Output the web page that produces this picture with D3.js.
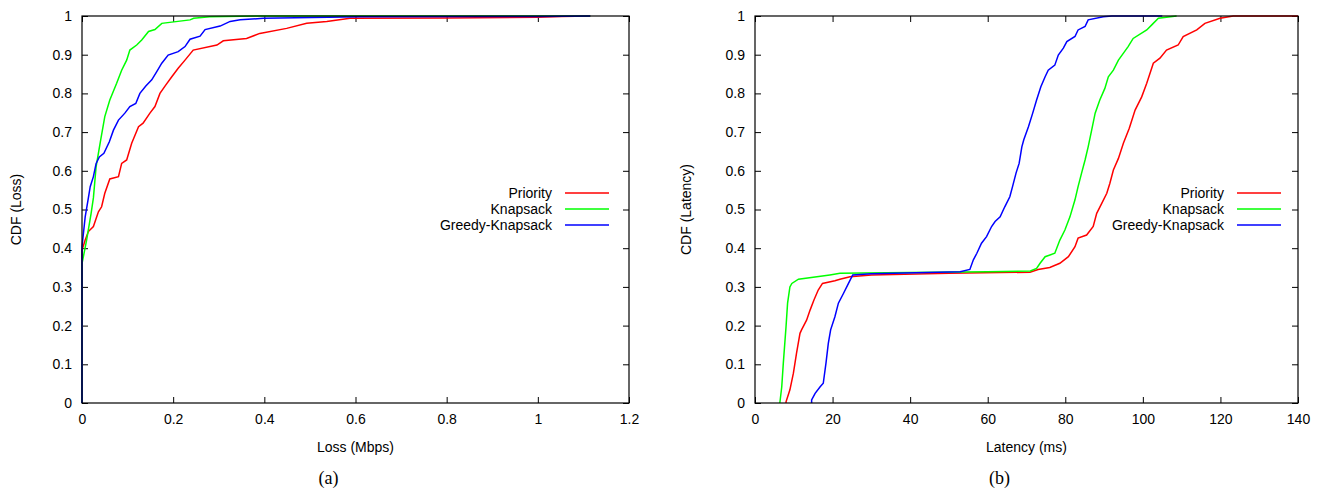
<!DOCTYPE html>
<html>
<head>
<meta charset="utf-8">
<script src="https://cdn.jsdelivr.net/npm/d3@7"></script>
<style>
  html, body { margin: 0; padding: 0; background: #fff; }
  svg { display: block; }
  text { font-family: "Liberation Sans", Arial, sans-serif; fill: #000; }
</style>
</head>
<body>
<svg id="chart" width="1330" height="491"></svg>
<script>
// ---------------- data ----------------
const seriesNames = ["Priority", "Knapsack", "Greedy-Knapsack"];
const seriesColors = ["#ff0000", "#00ff00", "#0000ff"];

const yTicks = [0, 0.1, 0.2, 0.3, 0.4, 0.5, 0.6, 0.7, 0.8, 0.9, 1];
const lossTicks = [0, 0.2, 0.4, 0.6, 0.8, 1, 1.2];
const latencyTicks = [0, 20, 40, 60, 80, 100, 120, 140];

// Panel (a): CDF of loss (Mbps)
const lossPriority = [[0,0],[0,0.395],[0.007,0.421],[0.014,0.443],[0.025,0.456],[0.036,0.494],[0.043,0.507],[0.05,0.542],[0.061,0.579],[0.08,0.585],[0.087,0.619],[0.098,0.628],[0.109,0.671],[0.124,0.714],[0.134,0.723],[0.149,0.749],[0.16,0.766],[0.171,0.8],[0.184,0.822],[0.197,0.843],[0.211,0.865],[0.226,0.886],[0.244,0.912],[0.296,0.925],[0.31,0.936],[0.361,0.942],[0.39,0.955],[0.449,0.968],[0.493,0.981],[0.537,0.986],[0.588,0.994],[0.8,0.995],[1.0,0.997],[1.05,0.999],[1.115,1.0]];
const lossKnapsack = [[0,0],[0,0.36],[0.01,0.42],[0.02,0.49],[0.025,0.53],[0.031,0.611],[0.041,0.68],[0.05,0.74],[0.061,0.783],[0.076,0.826],[0.087,0.86],[0.098,0.886],[0.105,0.912],[0.12,0.925],[0.131,0.938],[0.146,0.96],[0.16,0.965],[0.175,0.981],[0.237,0.99],[0.245,0.994],[0.28,0.998],[0.39,1.0],[1.115,1.0]];
const lossGreedy = [[0,0],[0,0.404],[0.007,0.481],[0.014,0.53],[0.018,0.559],[0.025,0.585],[0.031,0.619],[0.038,0.636],[0.048,0.645],[0.06,0.675],[0.069,0.705],[0.08,0.731],[0.094,0.749],[0.105,0.766],[0.118,0.774],[0.127,0.8],[0.14,0.819],[0.153,0.835],[0.164,0.856],[0.175,0.878],[0.189,0.899],[0.211,0.908],[0.226,0.921],[0.237,0.94],[0.259,0.948],[0.27,0.965],[0.303,0.974],[0.325,0.986],[0.347,0.99],[0.398,0.994],[0.61,0.998],[1.0,0.999],[1.115,1.0]];

// Panel (b): CDF of latency (ms)
const latPriority = [[8.0,0],[8.0,0.003],[9.0,0.034],[9.9,0.077],[10.7,0.128],[11.6,0.18],[12.0,0.189],[13.3,0.214],[14.2,0.24],[15.2,0.266],[16.3,0.292],[17.4,0.309],[20.6,0.316],[21.9,0.32],[24.5,0.326],[30,0.331],[50,0.335],[70.9,0.338],[73,0.345],[76,0.35],[78.6,0.361],[80.8,0.378],[82.5,0.404],[83.3,0.426],[85.5,0.434],[87.2,0.456],[88.1,0.49],[89.4,0.516],[90.7,0.542],[91.5,0.568],[92.4,0.602],[93.7,0.632],[95,0.672],[96.5,0.71],[98,0.757],[99.7,0.791],[101,0.826],[102.7,0.878],[104.4,0.891],[106.1,0.912],[109.1,0.925],[110.4,0.947],[113.9,0.964],[116,0.981],[119.9,0.994],[123.3,1.0],[140,1.0]];
const latKnapsack = [[6.4,0],[6.9,0.042],[7.3,0.103],[8.0,0.197],[8.4,0.258],[9.0,0.3],[9.5,0.309],[11.2,0.32],[19.3,0.331],[21.9,0.335],[40,0.337],[60,0.339],[71,0.341],[72.6,0.348],[73.5,0.361],[74.8,0.378],[77.3,0.387],[78.6,0.421],[79.9,0.447],[81.2,0.481],[82.5,0.525],[83.3,0.559],[84.2,0.594],[85.1,0.628],[85.9,0.662],[86.8,0.705],[87.7,0.749],[88.9,0.783],[90.2,0.813],[91.1,0.843],[92.4,0.86],[93.7,0.886],[95,0.904],[96.2,0.921],[97.5,0.942],[101,0.964],[102.3,0.977],[104,0.994],[108.7,1.0]];
const latGreedy = [[14.6,0],[14.6,0.008],[15.5,0.025],[16.8,0.042],[17.6,0.051],[18.3,0.103],[18.9,0.154],[19.5,0.189],[20.6,0.223],[21.5,0.258],[22.8,0.283],[24.1,0.309],[25.2,0.331],[30,0.334],[52.9,0.339],[55.4,0.345],[56.3,0.37],[57.2,0.387],[58.4,0.413],[59.7,0.43],[61,0.456],[61.9,0.469],[63.2,0.481],[64.4,0.507],[65.7,0.533],[66.4,0.559],[67.3,0.594],[68.1,0.619],[68.8,0.662],[69.3,0.68],[70.5,0.714],[71.6,0.749],[72.6,0.783],[73.7,0.817],[74.8,0.843],[75.6,0.86],[77.3,0.873],[78.2,0.899],[79.5,0.917],[80.4,0.934],[82.5,0.947],[83.3,0.964],[85.1,0.973],[85.9,0.99],[89.8,0.998],[92,1.0],[105,1.0]];

// ---------------- drawing ----------------
const svg = d3.select("#chart");
const FS = "14px";

function panel(opts) {
  const { left, right, top, bottom, xDomain, xTicks, xFmt, series, xTitle, yTitle, yTitleX, caption, legendX } = opts;
  const x = d3.scaleLinear().domain(xDomain).range([left, right]);
  const y = d3.scaleLinear().domain([0, 1]).range([bottom, top]);
  const g = svg.append("g");

  const tick = 6;
  const ax = g.append("g").attr("transform", `translate(0,${bottom})`)
    .call(d3.axisBottom(x).tickValues(xTicks).tickFormat(xFmt).tickSizeInner(-tick).tickSizeOuter(0).tickPadding(11));
  const axT = g.append("g").attr("transform", `translate(0,${top})`)
    .call(d3.axisTop(x).tickValues(xTicks).tickFormat("").tickSizeInner(-tick).tickSizeOuter(0));
  const ay = g.append("g").attr("transform", `translate(${left},0)`)
    .call(d3.axisLeft(y).tickValues(yTicks).tickFormat(d3.format("~g")).tickSizeInner(-tick).tickSizeOuter(0).tickPadding(10));
  const ayR = g.append("g").attr("transform", `translate(${right},0)`)
    .call(d3.axisRight(y).tickValues(yTicks).tickFormat("").tickSizeInner(-tick).tickSizeOuter(0));
  [ax, axT, ay, ayR].forEach(a => {
    a.select(".domain").remove();
    a.selectAll("line").attr("stroke", "#000").attr("stroke-width", 1);
    a.selectAll("text").style("font-family", '"Liberation Sans", Arial, sans-serif').style("font-size", FS).attr("fill", "#000");
  });

  const line = d3.line().x(d => x(d[0])).y(d => y(d[1]));
  series.forEach((s, i) => {
    g.append("path").datum(s).attr("d", line)
      .attr("fill", "none").attr("stroke", seriesColors[i]).attr("stroke-width", 1.5);
  });

  g.append("rect").attr("x", left).attr("y", top).attr("width", right - left).attr("height", bottom - top)
    .attr("fill", "none").attr("stroke", "#000").attr("stroke-width", 1.2);

  const ly = [193, 209, 225];
  seriesNames.forEach((n, i) => {
    g.append("text").attr("x", legendX).attr("y", ly[i]).attr("dy", "0.35em")
      .attr("text-anchor", "end").style("font-size", FS).text(n);
    g.append("line").attr("x1", legendX + 13).attr("x2", legendX + 57)
      .attr("y1", ly[i]).attr("y2", ly[i]).attr("stroke", seriesColors[i]).attr("stroke-width", 1.5);
  });

  g.append("text").attr("x", (left + right) / 2).attr("y", 447).attr("dy", "0.35em")
    .attr("text-anchor", "middle").style("font-size", FS).text(xTitle);
  g.append("text").attr("transform", `translate(${yTitleX},${(top + bottom) / 2}) rotate(-90)`)
    .attr("dy", "0.35em").attr("text-anchor", "middle").style("font-size", FS).text(yTitle);
  g.append("text").attr("x", (left + right) / 2 - 27).attr("y", 478).attr("dy", "0.35em")
    .attr("text-anchor", "middle").style("font-family", '"Liberation Serif", "Times New Roman", serif')
    .style("font-size", "18px").text(caption);
}

panel({
  left: 82, right: 629, top: 16, bottom: 403,
  xDomain: [0, 1.2], xTicks: lossTicks, xFmt: d3.format("~g"),
  series: [lossPriority, lossKnapsack, lossGreedy],
  xTitle: "Loss (Mbps)", yTitle: "CDF (Loss)", yTitleX: 16, caption: "(a)", legendX: 552
});
panel({
  left: 755, right: 1298, top: 16, bottom: 403,
  xDomain: [0, 140], xTicks: latencyTicks, xFmt: d3.format("~g"),
  series: [latPriority, latKnapsack, latGreedy],
  xTitle: "Latency (ms)", yTitle: "CDF (Latency)", yTitleX: 686, caption: "(b)", legendX: 1224
});
</script>
</body>
</html>
